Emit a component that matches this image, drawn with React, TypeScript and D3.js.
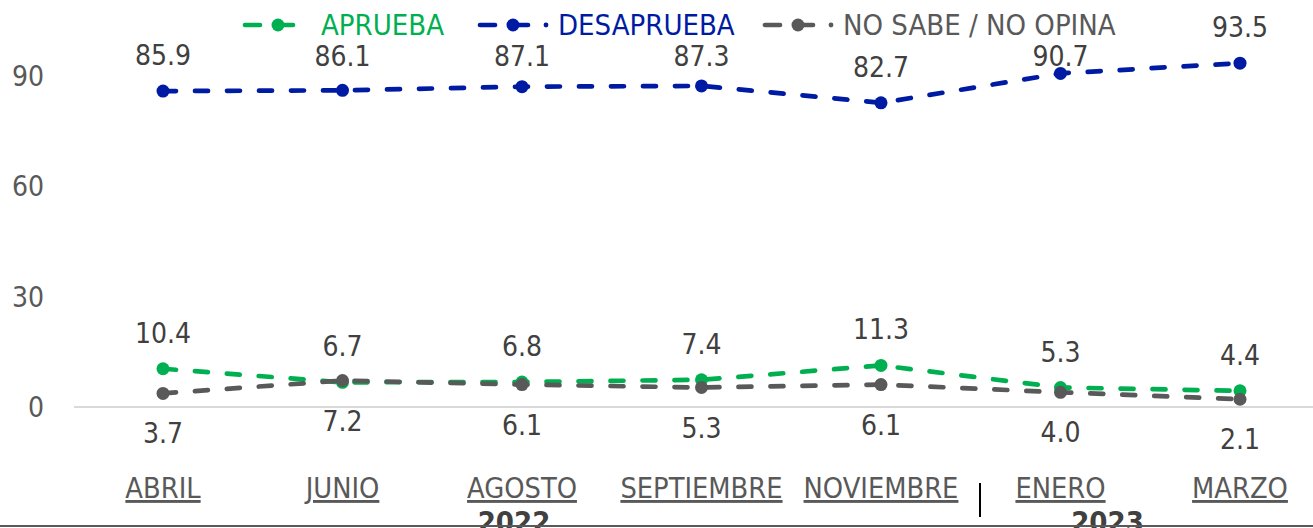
import React from 'react';
import * as d3 from 'd3';

const months = ['ABRIL', 'JUNIO', 'AGOSTO', 'SEPTIEMBRE', 'NOVIEMBRE', 'ENERO', 'MARZO'];
const aprueba = [10.4, 6.7, 6.8, 7.4, 11.3, 5.3, 4.4];
const desaprueba = [85.9, 86.1, 87.1, 87.3, 82.7, 90.7, 93.5];
const noSabe = [3.7, 7.2, 6.1, 5.3, 6.1, 4.0, 2.1];
const yTicks = [0, 30, 60, 90];
const years = [
  { label: '2022', from: 'AGOSTO' },
  { label: '2023', from: 'ENERO' },
];

const W = 1313;
const H = 528;
const FONT = "'Liberation Sans Narrow', 'DejaVu Sans Condensed', 'Open Sans', sans-serif";

const series = [
  { name: 'APRUEBA', values: aprueba, color: '#00B050', labelPos: 'above', legendX: 243 },
  { name: 'DESAPRUEBA', values: desaprueba, color: '#001BA3', labelPos: 'above', legendX: 478 },
  { name: 'NO SABE / NO OPINA', values: noSabe, color: '#595959', labelPos: 'below', legendX: 763 },
];

const x = d3.scalePoint<string>().domain(months).range([163, 1240]);
const y = d3.scaleLinear().domain([0, 90]).range([407, 76]);

const line = d3.line<number>()
  .x((d, i) => x(months[i]) as number)
  .y(d => y(d));

export default function App() {
  const legendRight = 1114;
  return (
    <div style={{ position: 'fixed', left: 0, top: 0 }}>
      <svg width={W} height={H} style={{ display: 'block', background: '#fff', fontFamily: FONT }}>
        {/* zero gridline */}
        <line x1={74} x2={W} y1={y(0)} y2={y(0)} stroke="#d9d9d9" strokeWidth={2} />

        {yTicks.map(t => (
          <text key={t} x={44} y={y(t) + 10} textAnchor="end" fontSize={28} fill="#595959">{t}</text>
        ))}

        {series.map(s => (
          <g key={s.name}>
            <path d={line(s.values) || ''} fill="none" stroke={s.color} strokeWidth={4.7}
              strokeDasharray="13 19" strokeLinecap="round" />
            {s.values.map((v, i) => (
              <circle key={i} cx={x(months[i])} cy={y(v)} r={6.5} fill={s.color} />
            ))}
          </g>
        ))}

        {/* data labels */}
        {series.map(s => s.values.map((v, i) => {
          const cx = x(months[i]) as number;
          let cy = s.labelPos === 'above' ? y(v) - 36 : y(v) + 40;
          if (s.labelPos === 'above' && cx > 243 && cx < legendRight) cy = Math.max(cy, 56);
          return (
            <text key={s.name + i} x={cx} y={cy + 10} textAnchor="middle" fontSize={28} fill="#404040">
              {v.toFixed(1)}
            </text>
          );
        }))}

        {/* legend */}
        {series.map(s => {
          const x0 = s.legendX;
          const ly = 25;
          return (
            <g key={'lg' + s.name}>
              <line x1={x0 + 2} x2={x0 + 17} y1={ly} y2={ly} stroke={s.color} strokeWidth={4.7} strokeLinecap="round" />
              <line x1={x0 + 35} x2={x0 + 50} y1={ly} y2={ly} stroke={s.color} strokeWidth={4.7} strokeLinecap="round" />
              <circle cx={x0 + 35} cy={ly} r={6.5} fill={s.color} />
              {s.name !== 'APRUEBA' && <circle cx={x0 + 68} cy={ly} r={2.4} fill={s.color} />}
              <text x={x0 + (s.name === 'APRUEBA' ? 78 : 80)} y={ly + 10} fontSize={29} fill={s.color}>{s.name}</text>
            </g>
          );
        })}

        {/* category labels */}
        {months.map(m => (
          <text key={m} x={x(m)} y={498} textAnchor="middle" fontSize={28.7} fill="#595959"
            textDecoration="underline">{m}</text>
        ))}

        {/* separator between years */}
        <line x1={980} x2={980} y1={483} y2={517} stroke="#000" strokeWidth={2} />

        {/* year labels, partly cut by the bottom edge as in the original */}
        {years.map(yr => (
          <text key={yr.label} x={(x(yr.from) as number) + (yr.label === '2022' ? -8 : 47)} y={532}
            textAnchor="middle" fontSize={29} fontWeight="bold" fill="#404040">{yr.label}</text>
        ))}

        {/* bottom border */}
        <line x1={0} x2={W} y1={526} y2={526} stroke="#595959" strokeWidth={2} />
      </svg>
    </div>
  );
}
